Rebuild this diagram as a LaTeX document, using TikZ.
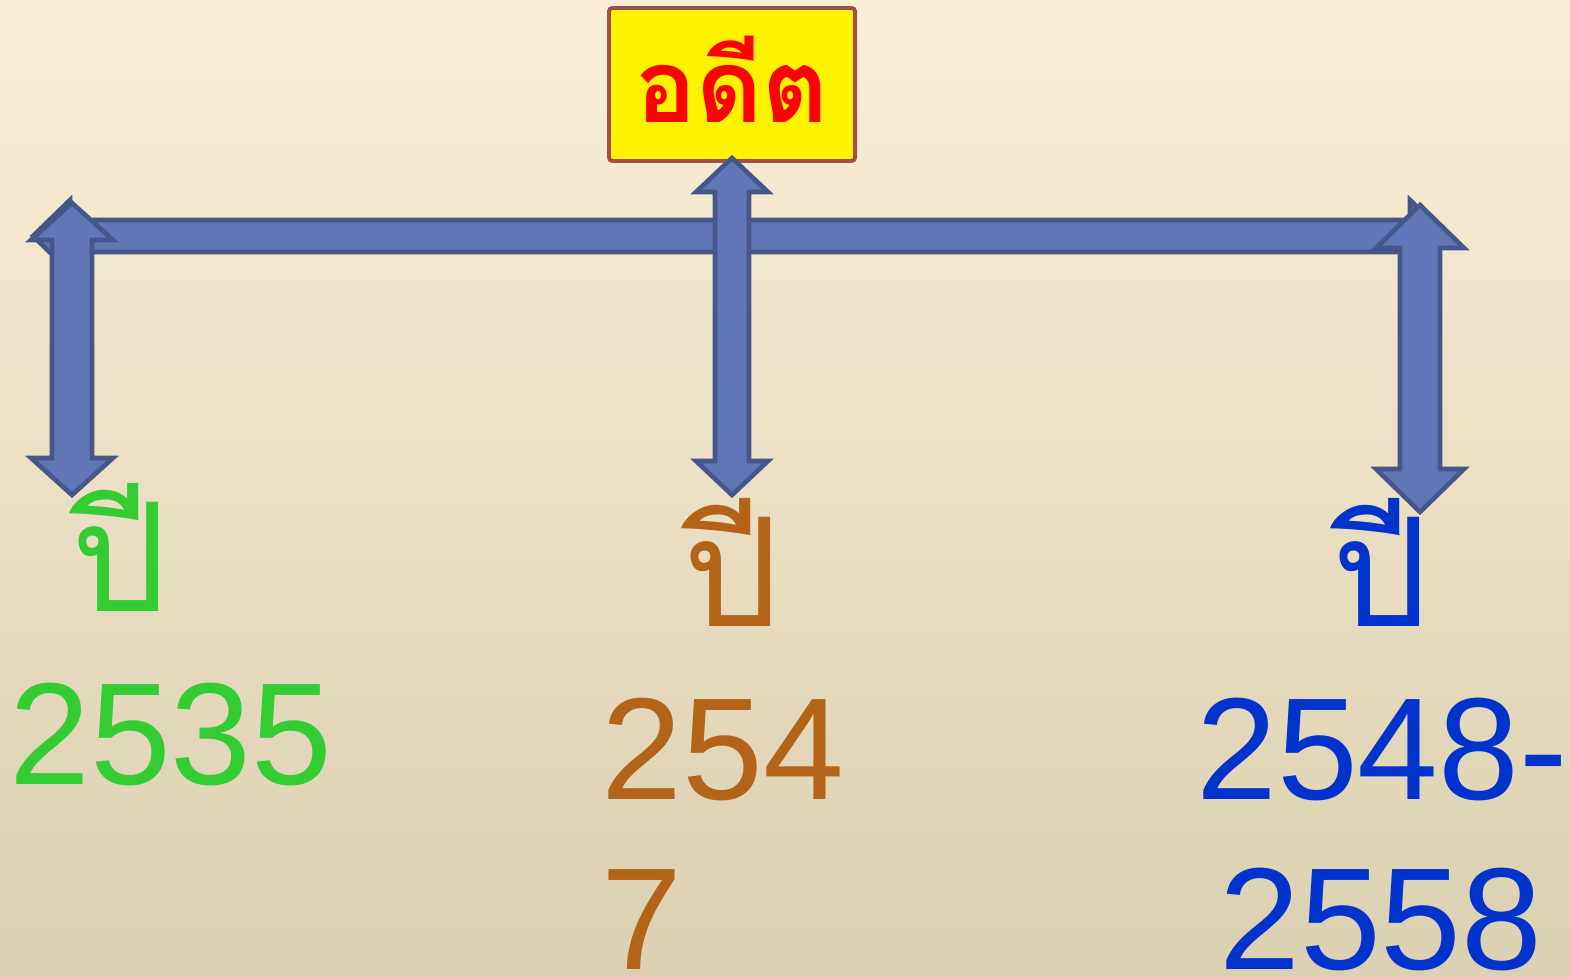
\documentclass[tikz,border=0pt]{standalone}
\usepackage{fontspec}
\setmainfont{Liberation Sans}
\newfontfamily\thaifont[Script=Thai]{Loma}
\usetikzlibrary{positioning}

\definecolor{bgtop}{RGB}{250,238,214}
\definecolor{bgmid}{RGB}{242,235,213}
\definecolor{bgbot}{RGB}{220,208,178}
\definecolor{arrowfill}{RGB}{96,118,182}
\definecolor{arrowline}{RGB}{68,86,138}
\definecolor{boxline}{RGB}{160,80,80}
\definecolor{yeargreen}{RGB}{51,204,51}
\definecolor{yearbrown}{RGB}{180,100,24}
\definecolor{yearblue}{RGB}{0,51,204}

\tikzset{
  blockarrow/.style={fill=arrowfill,draw=arrowline,line width=1.3pt,line join=miter},
  year/.style={inner sep=0pt,font=\fontsize{41.3}{50}\selectfont},
  pee/.style={inner sep=0pt,font=\thaifont\fontsize{43}{50}\selectfont}
}

% vertical block arrow: x, top tip, bottom tip, shaft half, head half, head length
\newcommand{\vblockarrow}[6]{%
  \draw[blockarrow] (#1,#2) -- (#1+#5,#2+#6) -- (#1+#4,#2+#6) -- (#1+#4,#3-#6)
    -- (#1+#5,#3-#6) -- (#1,#3) -- (#1-#5,#3-#6) -- (#1-#4,#3-#6)
    -- (#1-#4,#2+#6) -- (#1-#5,#2+#6) -- cycle;}
% horizontal block arrow: y, left tip, right tip, shaft half, head half, head length
\newcommand{\hblockarrow}[6]{%
  \draw[blockarrow] (#2,#1) -- (#2+#6,#1-#5) -- (#2+#6,#1-#4) -- (#3-#6,#1-#4)
    -- (#3-#6,#1-#5) -- (#3,#1) -- (#3-#6,#1+#5) -- (#3-#6,#1+#4)
    -- (#2+#6,#1+#4) -- (#2+#6,#1+#5) -- cycle;}

\begin{document}
\begin{tikzpicture}[x=0.01cm,y=-0.01cm]
  \shade[top color=bgtop,middle color=bgmid,bottom color=bgbot] (0,0) rectangle (1570,977);

  \node (past) at (732,84.5) [draw=boxline,line width=1.1pt,fill=yellow,rounded corners=1pt,
    minimum width=2.46cm,minimum height=1.53cm,inner sep=0pt,text height=0.75cm,text depth=0pt,
    text=red,font=\thaifont\bfseries\fontsize{29}{34}\selectfont] {อดีต};

  \hblockarrow{236}{33}{1447}{16}{36}{37}
  \vblockarrow{72}{203}{495}{20}{41}{37}
  \vblockarrow{732}{158}{495}{17}{36}{34}
  \vblockarrow{1420}{205}{512}{20}{44}{43}

  \node (pa) at (119,612) [pee,anchor=base,text=yeargreen] {ปี};
  \node (ya) at (171,785) [year,anchor=base,text=yeargreen] {2535};

  \node (pb) at (731,627) [pee,anchor=base,text=yearbrown] {ปี};
  \node (yb) at (601,800) [year,anchor=base west,text=yearbrown] {254};
  \node (yc) at (601,970) [year,anchor=base west,text=yearbrown] {7};

  \node (pc) at (1380,627) [pee,anchor=base,text=yearblue] {ปี};
  \node (yd) at (1382,800) [year,anchor=base,text=yearblue] {2548-};
  \node (ye) at (1381,970) [year,anchor=base,text=yearblue] {2558};
\end{tikzpicture}
\end{document}
